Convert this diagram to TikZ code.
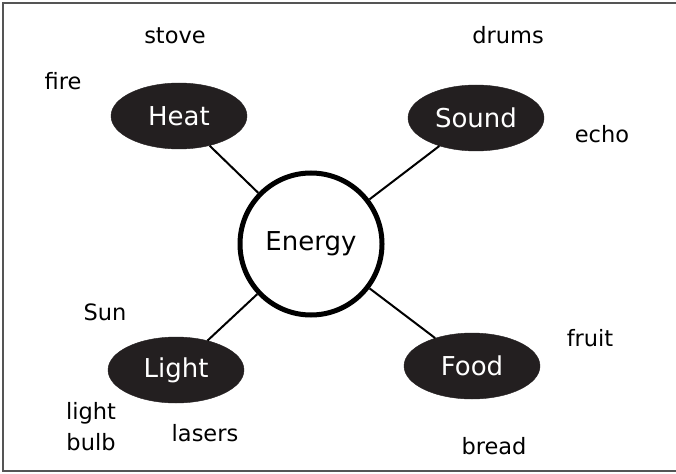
\documentclass[tikz,border=0pt]{standalone}
\usepackage{fontspec}
\setmainfont{DejaVu Sans}
\definecolor{inkfill}{HTML}{231F20}
\definecolor{framegray}{HTML}{555555}
\tikzset{
  topic/.style={ellipse, fill=inkfill, draw=inkfill, minimum width=136pt, minimum height=66pt, inner sep=0pt, text=white, font=\fontsize{26}{30}\selectfont},
  hub/.style={circle, draw=black, line width=5pt, fill=white, minimum size=142pt, inner sep=0pt, font=\fontsize{26}{30}\selectfont},
  word/.style={inner sep=0pt, font=\fontsize{22.5}{31}\selectfont, align=center},
  link/.style={line width=2pt, black}
}
\usetikzlibrary{shapes.geometric}
\begin{document}
\begin{tikzpicture}[x=1pt,y=-1pt]
\useasboundingbox (0,0) rectangle (676,473);
\begin{scope}
\clip (0,0) rectangle (676,473);
\draw[framegray, line width=2pt] (3,3.5) rectangle (690,471);
\end{scope}
\node[hub] (energy) at (311,244) {Energy};
\node[topic] (heat) at (179,116) {Heat};
\node[topic] (sound) at (476,118) {Sound};
\node[topic] (light) at (176,370) {Light};
\node[topic] (food) at (472,366) {Food};
\draw[link] (heat) -- (energy);
\draw[link] (sound) -- (energy);
\draw[link] (light) -- (energy);
\draw[link] (food) -- (energy);
\node[word] (stove) at (175,36) {stove};
\node[word] (fire) at (63,81) {fire};
\node[word] (drums) at (508,35) {drums};
\node[word] (echo) at (602,134) {echo};
\node[word] (sun) at (105,312) {Sun};
\node[word] (bulb) at (91,427) {light\\bulb};
\node[word] (lasers) at (205,433) {lasers};
\node[word] (fruit) at (590,338) {fruit};
\node[word] (bread) at (494,446) {bread};
\end{tikzpicture}
\end{document}
